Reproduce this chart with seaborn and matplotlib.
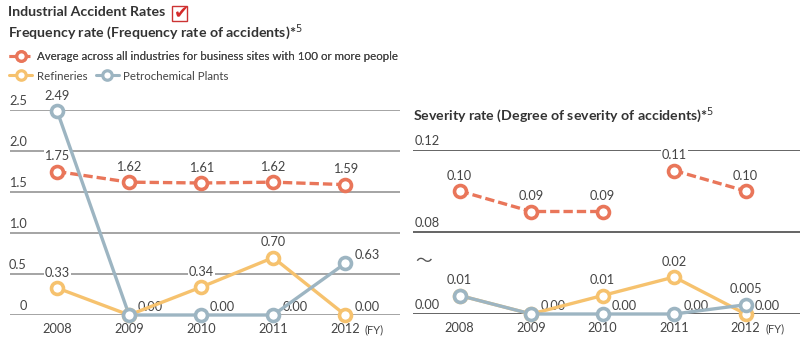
import numpy as np
import pandas as pd
import seaborn as sns
import matplotlib.pyplot as plt
from matplotlib.lines import Line2D
from matplotlib.patches import Rectangle

# data
years = [2008, 2009, 2010, 2011, 2012]
series_names = ["Average across all industries for business sites with 100 or more people",
                "Refineries", "Petrochemical Plants"]

freq_average = [1.75, 1.62, 1.61, 1.62, 1.59]
freq_refinery = [0.33, 0.00, 0.34, 0.70, 0.00]
freq_petro = [2.49, 0.00, 0.00, 0.00, 0.63]

sev_average = [0.10, 0.09, 0.09, 0.11, 0.10]
sev_refinery = [0.01, 0.00, 0.01, 0.02, 0.00]
sev_petro = [0.01, 0.00, 0.00, 0.00, 0.005]

freq_average_labels = ["1.75", "1.62", "1.61", "1.62", "1.59"]
freq_refinery_labels = ["0.33", "0.00", "0.34", "0.70", "0.00"]
freq_petro_labels = ["2.49", None, "0.00", "0.00", "0.63"]
sev_average_labels = ["0.10", "0.09", "0.09", "0.11", "0.10"]
sev_refinery_labels = [None, "0.00", "0.01", "0.02", "0.00"]
sev_petro_labels = ["0.01", None, "0.00", "0.00", "0.005"]

freq_ticks = [0, 0.5, 1.0, 1.5, 2.0, 2.5]
freq_tick_labels = ["0", "0.5", "1.0", "1.5", "2.0", "2.5"]
sev_ticks = [0.00, 0.08, 0.12]
sev_tick_labels = ["0.00", "0.08", "0.12"]

# styling
C_AVG = "#E9765A"
C_REF = "#F6C26E"
C_PET = "#9DB5C2"
TXT = "#444444"
FONT = ["Lato", "DejaVu Sans"]
NUM_FS = 9.2
DASH = (0, (2.8, 1.2))


def sev_fwd(y):
    y = np.asarray(y, dtype=float)
    return np.where(y < 0.04, 1850 * y,
                    np.where(y < 0.08, 74 + 200 * (y - 0.04), 82 + 2050 * (y - 0.08)))


def sev_inv(u):
    u = np.asarray(u, dtype=float)
    return np.where(u < 74, u / 1850,
                    np.where(u < 82, 0.04 + (u - 74) / 200, 0.08 + (u - 82) / 2050))


def draw_series(ax, df, color, dashed):
    sns.lineplot(data=df, x="year", y="val", ax=ax, color=color, lw=2.4,
                 linestyle=DASH if dashed else "-", zorder=3, clip_on=False)


def draw_markers(ax, vals, color):
    df = pd.DataFrame({"year": years, "val": vals})
    sns.scatterplot(data=df, x="year", y="val", ax=ax, color="white", edgecolor=color,
                    linewidth=2.6, s=74, zorder=4, clip_on=False)


def draw_labels(ax, vals, labels, right_idx=()):
    for i, (v, lab) in enumerate(zip(vals, labels)):
        if lab is None:
            continue
        if v == 0 or i in right_idx:
            off = (15.5, 5.8)
        else:
            off = (0, 11)
        ax.annotate(lab, (years[i], v), xytext=off, textcoords="offset points",
                    ha="center", va="center", fontsize=NUM_FS, color=TXT, zorder=2,
                    bbox=dict(fc="white", ec="none", pad=0.6))


def setup_axis(ax, ticks, tick_labels, grid_color, left_align):
    ax.set_xlim(years[0] - 0.653, years[-1] + 0.76)
    for t, lab in zip(ticks, tick_labels):
        ax.axhline(t, color=grid_color, lw=1.1, zorder=1)
        if left_align:
            ax.annotate(lab, (0.005, t), xycoords=ax.get_yaxis_transform(), xytext=(0, 6.5),
                        textcoords="offset points", ha="left", va="center", fontsize=NUM_FS, color=TXT)
        else:
            ax.annotate(lab, (0.043, t), xycoords=ax.get_yaxis_transform(), xytext=(0, 6.5),
                        textcoords="offset points", ha="right", va="center", fontsize=NUM_FS, color=TXT)
    ax.set_xticks(years)
    ax.set_xticklabels([str(y) for y in years])
    ax.tick_params(axis="x", length=0, pad=5.5, labelsize=NUM_FS, labelcolor=TXT)
    ax.tick_params(axis="y", left=False, labelleft=False)
    ax.set_yticks([])
    ax.set_xlabel("")
    ax.set_ylabel("")
    sns.despine(ax=ax, left=True, bottom=True)
    ax.annotate("(FY)", (years[-1], 0), xycoords=("data", "axes fraction"), xytext=(21, -10.3),
                textcoords="offset points", ha="center", va="center", fontsize=8, color=TXT)


def main():
    sns.set_theme(style="white")
    plt.rcParams["font.family"] = FONT

    fig = plt.figure(figsize=(8, 3.51), dpi=100)
    fig.patch.set_facecolor("white")

    ax1 = fig.add_axes([10 / 800, 36 / 351, 390 / 800, 205 / 351])
    ax2 = fig.add_axes([413 / 800, 37 / 351, 387 / 800, 164 / 351])
    for ax in (ax1, ax2):
        ax.set_facecolor("none")

    # frequency rate
    draw_series(ax1, pd.DataFrame({"year": years, "val": freq_average}), C_AVG, True)
    draw_series(ax1, pd.DataFrame({"year": years, "val": freq_refinery}), C_REF, False)
    draw_series(ax1, pd.DataFrame({"year": years, "val": freq_petro}), C_PET, False)
    draw_markers(ax1, freq_average, C_AVG)
    draw_markers(ax1, freq_refinery, C_REF)
    draw_markers(ax1, freq_petro, C_PET)
    ax1.set_ylim(0, 2.5)
    setup_axis(ax1, freq_ticks, freq_tick_labels, "#8c8c8c", False)
    draw_labels(ax1, freq_average, freq_average_labels)
    draw_labels(ax1, freq_refinery, freq_refinery_labels)
    draw_labels(ax1, freq_petro, freq_petro_labels, right_idx=(4,))

    # severity rate (broken axis, average line is split between 2010 and 2011)
    ax2.set_yscale("function", functions=(sev_fwd, sev_inv))
    df_a = pd.DataFrame({"year": years, "val": sev_average})
    draw_series(ax2, df_a.iloc[:3], C_AVG, True)
    draw_series(ax2, df_a.iloc[3:], C_AVG, True)
    draw_series(ax2, pd.DataFrame({"year": years, "val": sev_refinery}), C_REF, False)
    draw_series(ax2, pd.DataFrame({"year": years, "val": sev_petro}), C_PET, False)
    draw_markers(ax2, sev_average, C_AVG)
    draw_markers(ax2, sev_refinery, C_REF)
    draw_markers(ax2, sev_petro, C_PET)
    ax2.set_ylim(0, 0.12)
    setup_axis(ax2, sev_ticks, sev_tick_labels, "#3a3a3a", True)
    draw_labels(ax2, sev_average, sev_average_labels)
    draw_labels(ax2, sev_refinery, sev_refinery_labels)
    draw_labels(ax2, sev_petro, sev_petro_labels)
    fig.text(415 / 800, 1 - 262 / 351, "\u301c", fontsize=12, color="#555555", ha="left",
             va="center", family=["Noto Sans CJK JP", "DejaVu Sans"])

    # titles
    fig.text(8 / 800, 1 - 12 / 351, "Industrial Accident Rates", fontsize=10.2, fontweight="bold",
             color="#333333", ha="left", va="center")
    fig.patches.append(Rectangle((172 / 800, 1 - 21 / 351), 15 / 800, 15 / 351,
                                 transform=fig.transFigure, fill=False, ec="#cc3333", lw=1))
    fig.text(181 / 800, 1 - 12 / 351, "\u2714", fontsize=13, color="#d42a2a", ha="center",
             va="center", family=["DejaVu Sans"])
    fig.text(8 / 800, 1 - 32 / 351, "Frequency rate (Frequency rate of accidents)*$^{5}$",
             fontsize=10.2, fontweight="bold", color="#333333", ha="left", va="center")
    fig.text(413 / 800, 1 - 115 / 351, "Severity rate (Degree of severity of accidents)*$^{5}$",
             fontsize=10.2, fontweight="bold", color="#333333", ha="left", va="center")

    # legend
    def handle(c, dashed):
        return Line2D([], [], color=c, lw=2.2, ls=DASH if dashed else "-", marker="o",
                      mfc="white", mec=c, ms=6.8, mew=2.3)

    leg1 = fig.legend([handle(C_AVG, True)], [series_names[0]], loc="center left",
                      bbox_to_anchor=(-1 / 800, 1 - 57 / 351), frameon=False, fontsize=8.3,
                      handlelength=2.0, handletextpad=0.4, labelcolor=TXT)
    fig.add_artist(leg1)
    fig.legend([handle(C_REF, False), handle(C_PET, False)], series_names[1:], loc="center left",
               bbox_to_anchor=(-1 / 800, 1 - 76 / 351), frameon=False, fontsize=8.3, ncol=2,
               handlelength=2.0, handletextpad=0.4, columnspacing=0.7, labelcolor=TXT)

    fig.savefig("out.png", dpi=100, facecolor="white")
    plt.close(fig)


if __name__ == "__main__":
    main()
